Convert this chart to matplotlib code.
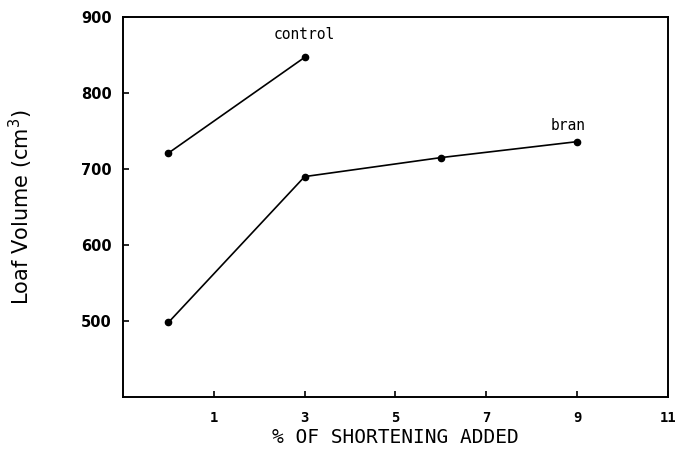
import matplotlib
matplotlib.use("Agg")
import matplotlib.pyplot as plt

# ---- data --------------------------------------------------------------- #
control_x = [0, 3]
control_y = [721, 847]
bran_x = [0, 3, 6, 9]
bran_y = [498, 690, 715, 736]
xticks = [1, 3, 5, 7, 9, 11]
yticks = [500, 600, 700, 800, 900]

MONO = "DejaVu Sans Mono"


def main():
    fig = plt.figure(figsize=(6.76, 4.62), dpi=100)
    ax = fig.add_axes([0.182, 0.141, 0.806, 0.822])

    ax.plot(control_x, control_y, "k-", marker="o", ms=4.5, lw=1.2)
    ax.plot(bran_x, bran_y, "k-", marker="o", ms=4.5, lw=1.2)
    ax.text(control_x[-1], control_y[-1] + 20, "control", family=MONO,
            fontsize=10.5, ha="center", va="bottom")
    ax.text(bran_x[-1] - 0.2, bran_y[-1] + 12, "bran", family=MONO,
            fontsize=10.5, ha="center", va="bottom")

    ax.set_xlim(-1, 11)
    ax.set_ylim(400, 900)
    ax.set_xticks(xticks, [str(v) for v in xticks], family=MONO,
                  fontweight="bold", fontsize=10)
    ax.set_yticks(yticks, [str(v) for v in yticks], fontweight="bold",
                  fontsize=10.5)
    ax.tick_params(direction="in", length=4, width=1.2)
    ax.tick_params(axis="x", pad=10)
    ax.tick_params(axis="y", pad=8)
    for sp in ax.spines.values():
        sp.set_linewidth(1.4)

    ax.set_xlabel("% OF SHORTENING ADDED", family=MONO, fontsize=14, labelpad=2)
    ax.set_ylabel("Loaf Volume (cm$^3$)", fontsize=15, labelpad=33)

    fig.savefig("out.png", dpi=100)


if __name__ == "__main__":
    main()
